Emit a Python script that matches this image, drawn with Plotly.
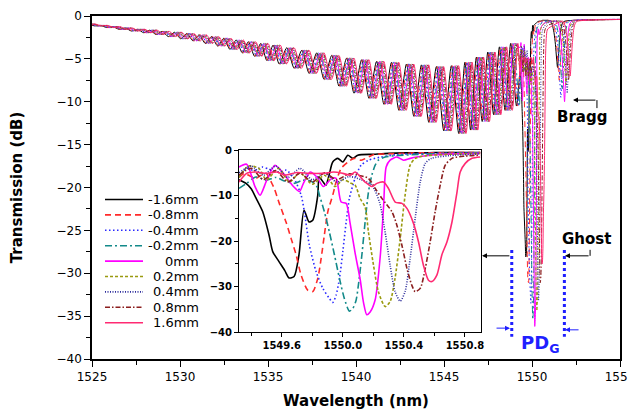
import plotly.graph_objects as go

# ---------------- data ----------------
series_names = ["-1.6mm", "-0.8mm", "-0.4mm", "-0.2mm", "0mm", "0.2mm", "0.4mm", "0.8mm", "1.6mm"]
colors = ["#000000", "#ff2a2a", "#2a2aff", "#138a8a", "#ff00ff", "#9a9a10", "#2a2a9a", "#8b1e1e", "#ff2a72"]
dashes = ["solid", "6px,4px", "1.5px,2.5px", "7px,3px,2px,3px", "solid", "3px,2px", "1px,1.5px",
          "5px,2px,1.5px,2px", "solid"]

# fringe extrema of the transmission spectrum (main panel), nm / dB
fringe_wl = [1524.3, 1524.65, 1525.0, 1525.35, 1525.7, 1526.05, 1526.4, 1526.75, 1527.1, 1527.45,
             1527.8, 1528.15, 1528.5, 1528.85, 1529.2, 1529.55, 1529.9, 1530.25, 1530.6, 1530.95,
             1531.3, 1531.65, 1532.0, 1532.35, 1532.7, 1533.05, 1533.4, 1533.75, 1534.1, 1534.45,
             1534.8, 1535.15, 1535.5, 1535.85, 1536.28, 1536.7, 1537.13, 1537.55, 1537.98, 1538.4,
             1538.83, 1539.25, 1539.68, 1540.1, 1540.53, 1540.95, 1541.38, 1541.8, 1542.23, 1542.65,
             1543.08, 1543.5, 1543.93, 1544.35, 1544.78, 1545.2, 1545.63, 1546.05, 1546.4, 1546.72,
             1547.05, 1547.38, 1547.7, 1548.03, 1548.36, 1548.68, 1549.0, 1549.33, 1549.65, 1549.98]
fringe_db = [-0.9, -1.0, -0.95, -1.15, -1.1, -1.35, -1.25, -1.55, -1.4, -1.75,
             -1.55, -1.95, -1.65, -2.15, -1.8, -2.4, -1.9, -2.65, -2.05, -2.9,
             -2.2, -3.2, -2.4, -3.5, -2.6, -3.9, -2.8, -4.3, -3.0, -4.7,
             -3.2, -5.2, -3.4, -5.6, -3.7, -6.1, -4.0, -6.7, -4.3, -7.4,
             -4.6, -8.2, -4.9, -9.0, -5.1, -9.6, -5.3, -10.3, -5.4, -11.0,
             -5.6, -11.7, -5.7, -12.4, -5.9, -13.4, -5.8, -13.7, -5.4, -13.3,
             -4.8, -12.3, -4.2, -11.5, -3.6, -11.0, -3.2, -10.5, -3.0, -9.5]
fringe_shift = [-0.21, -0.15, -0.1, -0.045, 0.0, 0.05, 0.1, 0.155, 0.2]

# inset: detailed main dips of each series
wl_m16 = [1549.32, 1549.366, 1549.40, 1549.431, 1549.475, 1549.517, 1549.541, 1549.582, 1549.62, 1549.648,
          1549.681, 1549.713, 1549.746, 1549.779, 1549.803, 1549.836, 1549.845, 1549.871, 1549.889, 1549.91,
          1549.934, 1549.967, 1550.0, 1550.033, 1550.066, 1550.098, 1550.2, 1550.3, 1550.4, 1550.5,
          1550.6, 1550.7, 1550.8, 1550.9]
db_m16 = [-6.5, -7.3, -8.5, -10.5, -13.5, -18.7, -22.3, -24.5, -26.5, -28.1,
          -27.8, -23.0, -13.2, -15.8, -15.4, -9.9, -5.9, -7.0, -7.7, -5.5,
          -2.6, -1.8, -2.6, -1.1, -1.8, -1.1, -0.9, -0.7, -0.6, -0.6,
          -0.5, -0.5, -0.5, -0.5]
wl_m08 = [1549.32, 1549.355, 1549.40, 1549.431, 1549.47, 1549.497, 1549.541, 1549.551, 1549.584, 1549.628,
          1549.661, 1549.694, 1549.727, 1549.77, 1549.803, 1549.836, 1549.858, 1549.879, 1549.902, 1549.934,
          1549.956, 1549.989, 1550.033, 1550.074, 1550.12, 1550.2, 1550.3, 1550.4, 1550.5, 1550.6,
          1550.7, 1550.8, 1550.9]
db_m08 = [-6.0, -5.1, -5.8, -6.2, -5.4, -5.1, -7.7, -8.4, -11.7, -15.8,
          -19.4, -23.0, -27.5, -30.8, -31.1, -28.2, -23.8, -18.7, -13.5, -9.9,
          -7.0, -4.0, -2.6, -1.8, -2.2, -1.0, -0.8, -0.7, -0.6, -0.6,
          -0.5, -0.5, -0.5]
wl_m04 = [1549.32, 1549.37, 1549.42, 1549.47, 1549.52, 1549.582, 1549.63, 1549.68, 1549.727, 1549.748,
          1549.781, 1549.825, 1549.869, 1549.912, 1549.934, 1549.956, 1549.978, 1550.0, 1550.022, 1550.043,
          1550.066, 1550.087, 1550.12, 1550.17, 1550.25, 1550.35, 1550.45, 1550.6, 1550.75, 1550.9]
db_m04 = [-5.9, -4.0, -4.5, -3.7, -4.2, -4.8, -4.4, -6.2, -9.9, -13.5,
          -20.9, -26.7, -30.4, -32.6, -33.5, -31.9, -28.2, -22.3, -15.8, -10.6,
          -7.7, -5.5, -3.3, -2.2, -1.5, -1.0, -0.8, -0.7, -0.6, -0.6]
wl_m02 = [1549.32, 1549.37, 1549.43, 1549.5, 1549.56, 1549.62, 1549.68, 1549.74, 1549.79, 1549.83,
          1549.847, 1549.879, 1549.912, 1549.945, 1549.978, 1550.01, 1550.043, 1550.066, 1550.087, 1550.102,
          1550.125, 1550.146, 1550.168, 1550.19, 1550.212, 1550.233, 1550.277, 1550.35, 1550.45, 1550.6,
          1550.75, 1550.9]
db_m02 = [-8.4, -7.3, -5.9, -6.6, -6.0, -6.8, -7.3, -6.6, -6.8, -8.0,
          -9.9, -13.5, -18.0, -23.0, -28.2, -32.6, -35.4, -34.8, -33.0, -29.7,
          -23.0, -15.8, -9.2, -5.5, -3.3, -2.2, -1.5, -1.2, -1.0, -0.8,
          -0.7, -0.6]
wl_p00 = [1549.32, 1549.370, 1549.425, 1549.458, 1549.502, 1549.556, 1549.611, 1549.677, 1549.716, 1549.742,
          1549.786, 1549.830, 1549.873, 1549.928, 1549.956, 1549.989, 1550.022, 1550.048, 1550.081, 1550.114,
          1550.136, 1550.157, 1550.179, 1550.212, 1550.245, 1550.267, 1550.284, 1550.310, 1550.354, 1550.398,
          1550.442, 1550.485, 1550.6, 1550.75, 1550.9]
db_p00 = [-3.7, -3.1, -8.0, -9.9, -6.6, -3.3, -5.1, -8.0, -9.1, -7.3,
          -4.8, -5.9, -8.0, -6.2, -6.2, -11.4, -11.7, -16.1, -22.7, -28.5,
          -33.6, -36.2, -35.6, -32.9, -23.4, -12.4, -3.7, -2.2, -1.5, -2.2,
          -1.8, -1.5, -1.0, -0.8, -0.7]
wl_p02 = [1549.32, 1549.38, 1549.45, 1549.5, 1549.58, 1549.65, 1549.72, 1549.8, 1549.88, 1549.95,
          1550.0, 1550.05, 1550.081, 1550.113, 1550.146, 1550.168, 1550.201, 1550.233, 1550.277, 1550.31,
          1550.342, 1550.376, 1550.408, 1550.441, 1550.474, 1550.55, 1550.7, 1550.9]
db_p02 = [-6.0, -3.5, -4.0, -6.5, -4.0, -7.0, -5.0, -7.5, -5.5, -8.0,
          -6.5, -7.2, -7.7, -10.6, -12.5, -18.0, -25.3, -31.1, -34.4, -33.3,
          -28.2, -19.4, -9.9, -3.3, -1.8, -1.2, -0.9, -0.7]
wl_p04 = [1549.32, 1549.4, 1549.48, 1549.56, 1549.64, 1549.72, 1549.8, 1549.88, 1549.96, 1550.04,
          1550.12, 1550.19, 1550.24, 1550.277, 1550.31, 1550.342, 1550.376, 1550.408, 1550.441, 1550.474,
          1550.507, 1550.54, 1550.58, 1550.7, 1550.9]
db_p04 = [-5.0, -3.5, -5.5, -3.5, -6.0, -4.0, -6.5, -5.0, -7.0, -5.8,
          -6.5, -7.7, -11.4, -18.0, -25.3, -31.1, -33.2, -31.1, -23.8, -15.0,
          -7.0, -2.9, -1.8, -1.2, -0.8]
wl_p08 = [1549.32, 1549.4, 1549.48, 1549.56, 1549.64, 1549.72, 1549.8, 1549.88, 1549.96, 1550.04,
          1550.1, 1550.168, 1550.212, 1550.256, 1550.321, 1550.354, 1550.387, 1550.42, 1550.452, 1550.474,
          1550.507, 1550.54, 1550.572, 1550.605, 1550.638, 1550.671, 1550.715, 1550.8, 1550.9]
db_p08 = [-5.5, -4.0, -6.5, -4.5, -7.0, -5.0, -7.0, -5.0, -6.5, -5.2,
          -5.5, -6.2, -8.4, -10.6, -13.5, -16.5, -20.9, -26.0, -29.7, -31.1,
          -30.4, -26.0, -20.2, -13.5, -7.7, -3.3, -1.8, -1.3, -1.1]
wl_p16 = [1549.32, 1549.37, 1549.43, 1549.5, 1549.57, 1549.62, 1549.7, 1549.78, 1549.87, 1549.94,
          1550.0, 1550.05, 1550.081, 1550.146, 1550.19, 1550.223, 1550.266, 1550.299, 1550.343, 1550.387,
          1550.42, 1550.463, 1550.496, 1550.528, 1550.561, 1550.584, 1550.616, 1550.649, 1550.682, 1550.715,
          1550.748, 1550.769, 1550.802, 1550.846, 1550.9]
db_p16 = [-7.0, -5.1, -4.8, -5.1, -4.8, -5.5, -4.9, -5.1, -5.1, -4.8,
          -5.1, -5.5, -4.8, -7.0, -8.0, -7.3, -7.0, -8.4, -11.4, -11.7,
          -12.8, -16.1, -20.2, -25.3, -28.6, -28.9, -27.5, -23.0, -20.2, -15.8,
          -9.2, -4.8, -2.9, -1.8, -1.5]

inset_wl = [wl_m16, wl_m08, wl_m04, wl_m02, wl_p00, wl_p02, wl_p04, wl_p08, wl_p16]
inset_db = [db_m16, db_m08, db_m04, db_m02, db_p00, db_p02, db_p04, db_p08, db_p16]

# Bragg dips (main panel)
bragg_center = [1551.45, 1551.55, 1551.64, 1551.72, 1551.85, 1551.93, 1552.0, 1552.08, 1552.17]
bragg_depth = [-6.0, -7.5, -9.5, -8.5, -10.0, -8.0, -9.0, -7.5, -7.0]
bragg_rel = [-0.42, -0.3, -0.2, -0.12, -0.05, 0.0, 0.05, 0.12, 0.2, 0.3, 0.42]
bragg_shape = [0.0, 0.08, 0.25, 0.5, 0.82, 1.0, 0.78, 0.42, 0.15, 0.03, 0.0]
gap_db = -0.6
tail_wl = 1555.5
tail_db = -0.4

FONT = "DejaVu Sans"

fig = go.Figure()

# ---------------- main panel ----------------
for i, name in enumerate(series_names):
    s = fringe_shift[i]
    xs, ys = [], []
    for w, d in zip(fringe_wl, fringe_db):
        if w + s < inset_wl[i][0] - 0.01:
            xs.append(w + s)
            ys.append(d)
    xs += inset_wl[i]
    ys += inset_db[i]
    for r, f in zip(bragg_rel, bragg_shape):
        xs.append(bragg_center[i] + r)
        ys.append(gap_db + f * (bragg_depth[i] - gap_db))
    xs.append(tail_wl)
    ys.append(tail_db)
    fig.add_trace(go.Scatter(
        x=xs, y=ys, mode="lines", name=name,
        line=dict(color=colors[i], width=1, dash=dashes[i], shape="spline", smoothing=0.7),
        xaxis="x", yaxis="y", showlegend=False))

# ---------------- inset ----------------
for i, name in enumerate(series_names):
    fig.add_trace(go.Scatter(
        x=inset_wl[i], y=inset_db[i], mode="lines", name=name,
        line=dict(color=colors[i], width=1.6, dash=dashes[i], shape="spline", smoothing=0.7),
        xaxis="x2", yaxis="y2", showlegend=False))

axis_common = dict(showline=True, linecolor="black", mirror=True, showgrid=False, zeroline=False,
                   ticks="outside", tickcolor="black", automargin=False)

# the page adds an 8 px body margin, so the figure is 8 px smaller than the window
fig.update_layout(
    width=628, height=402,
    margin=dict(l=84, r=16, t=8, b=51),
    paper_bgcolor="white", plot_bgcolor="white",
    font=dict(family=FONT, color="black", size=12),
    showlegend=False,
    xaxis=dict(**axis_common, domain=[0, 1], range=[1525, 1555], tick0=1525, dtick=5,
               ticklen=6, tickwidth=1.2, linewidth=1.6,
               minor=dict(dtick=2.5, ticklen=4, ticks="outside", tickcolor="black", showgrid=False),
               tickfont=dict(size=12),
               title=dict(text="Wavelength (nm)", font=dict(size=15, weight="bold"), standoff=12)),
    yaxis=dict(**axis_common, domain=[0, 1], range=[-40, 0], tick0=0, dtick=5,
               ticklen=6, tickwidth=1.2, linewidth=1.6,
               minor=dict(dtick=2.5, ticklen=4, ticks="outside", tickcolor="black", showgrid=False),
               tickfont=dict(size=12),
               title=dict(text="Transmission (dB)", font=dict(size=15, weight="bold"), standoff=32)),
    xaxis2=dict(**axis_common, domain=[0.2784, 0.7367], anchor="y2", range=[1549.32, 1550.905],
                tickvals=[1549.6, 1550.0, 1550.4, 1550.8],
                ticktext=["1549.6", "1550.0", "1550.4", "1550.8"],
                ticklen=4, tickwidth=1, linewidth=1,
                minor=dict(tickvals=[1549.4, 1549.8, 1550.2, 1550.6], ticklen=3, ticks="outside",
                           tickcolor="black", showgrid=False),
                tickfont=dict(size=10, weight="bold")),
    yaxis2=dict(**axis_common, domain=[0.0786, 0.6088], anchor="x2", range=[-40, 0],
                tickvals=[0, -10, -20, -30, -40], ticklen=4, tickwidth=1, linewidth=1,
                minor=dict(tickvals=[-5, -15, -25, -35], ticklen=3, ticks="outside",
                           tickcolor="black", showgrid=False),
                tickfont=dict(size=10, weight="bold")),
)

blue = "#1f1fff"
shapes = [
    dict(type="line", xref="x", yref="y", x0=1548.85, x1=1548.85, y0=-27.3, y1=-37.4,
         line=dict(color=blue, width=3, dash="dot")),
    dict(type="line", xref="x", yref="y", x0=1551.84, x1=1551.84, y0=-27.3, y1=-37.4,
         line=dict(color=blue, width=3, dash="dot")),
    dict(type="line", xref="x", yref="y", x0=1553.69, x1=1553.69, y0=-9.81, y1=-10.74,
         line=dict(color="black", width=1)),
    dict(type="line", xref="x", yref="y", x0=1553.3, x1=1553.3, y0=-27.27, y1=-27.97,
         line=dict(color="black", width=1)),
]

def arrow(tip, tail, color="black"):
    return dict(x=tip[0], y=tip[1], ax=tail[0], ay=tail[1], xref="x", yref="y",
                axref="x", ayref="y", text="", showarrow=True, arrowhead=2, arrowsize=1,
                arrowwidth=1, arrowcolor=color)

annotations = [
    dict(x=1552.84, y=-11.8, xref="x", yref="y", text="Bragg", showarrow=False,
         font=dict(size=15, weight="bold")),
    dict(x=1553.07, y=-26.0, xref="x", yref="y", text="Ghost", showarrow=False,
         font=dict(size=15, weight="bold")),
    dict(x=1550.45, y=-38.2, xref="x", yref="y", text="PD<sub>G</sub>", showarrow=False,
         font=dict(size=18, weight="bold", color=blue)),
    arrow((1552.33, -9.81), (1553.69, -9.81)),
    arrow((1551.875, -27.97), (1553.3, -27.97)),
    arrow((1547.16, -27.97), (1548.8, -27.97)),
    arrow((1548.75, -36.4), (1547.9, -36.4), blue),
    arrow((1551.875, -36.6), (1552.73, -36.6), blue),
]

# legend (drawn as line samples + right-aligned labels, like the original); window pixels
plot_l, plot_r, plot_t, plot_b = 92, 620, 16, 359
def px_x(p):
    return (p - plot_l) / (plot_r - plot_l)
def px_y(p):
    return (plot_b - p) / (plot_b - plot_t)
for k, name in enumerate(series_names):
    yy = px_y(199.5 + k * 15.4)
    shapes.append(dict(type="line", xref="paper", yref="paper", x0=px_x(105), x1=px_x(143),
                       y0=yy, y1=yy, line=dict(color=colors[k], width=1.6, dash=dashes[k])))
    annotations.append(dict(x=px_x(201), y=yy, xref="paper", yref="paper", text=name,
                            showarrow=False, xanchor="right", yanchor="middle",
                            font=dict(size=13)))

fig.update_layout(shapes=shapes, annotations=annotations)

fig.write_html("out.html")
